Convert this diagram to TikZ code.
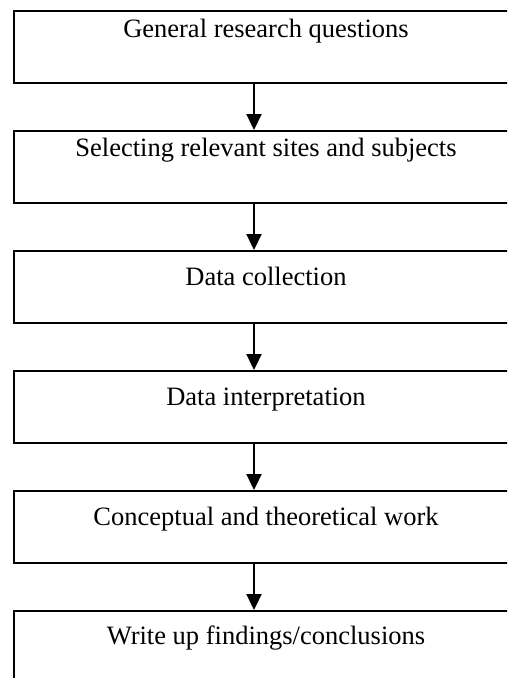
\documentclass[tikz,border=0pt]{standalone}
\usepackage{fontspec}
\setmainfont{Liberation Serif}
\usetikzlibrary{arrows.meta}
\begin{document}
\begin{tikzpicture}[x=1pt,y=-1pt,
  stagebox/.style={draw=black, line width=1.9pt, rectangle, minimum width=504.5pt, minimum height=72pt, inner sep=0pt},
  stagetext/.style={anchor=base, inner sep=0pt, font=\fontsize{26.5}{30}\selectfont},
  flowarrow/.style={line width=1.9pt, -{Triangle[width=15pt,length=16pt]}}]
\useasboundingbox (0,0) rectangle (507,678);
\clip (0,0) rectangle (507,678);
\fill[white] (0,0) rectangle (507,678);
\node[stagebox] (b1) at (266,47) {};
\node[stagebox] (b2) at (266,167) {};
\node[stagebox] (b3) at (266,287) {};
\node[stagebox] (b4) at (266,407) {};
\node[stagebox] (b5) at (266,527) {};
\node[stagebox] (b6) at (266,647) {};
\node[stagetext] (t1) at ([yshift=-27pt]b1.north) {General research questions};
\node[stagetext] (t2) at ([yshift=-26.3pt]b2.north) {Selecting relevant sites and subjects};
\node[stagetext] (t3) at ([yshift=-35.5pt]b3.north) {Data collection};
\node[stagetext] (t4) at ([yshift=-35.5pt]b4.north) {Data interpretation};
\node[stagetext] (t5) at ([yshift=-35.5pt]b5.north) {Conceptual and theoretical work};
\node[stagetext] (t6) at ([yshift=-34pt]b6.north) {Write up findings/conclusions};
\draw[flowarrow] ([xshift=-12pt]b1.south) -- ([xshift=-12pt]b2.north);
\draw[flowarrow] ([xshift=-12pt]b2.south) -- ([xshift=-12pt]b3.north);
\draw[flowarrow] ([xshift=-12pt]b3.south) -- ([xshift=-12pt]b4.north);
\draw[flowarrow] ([xshift=-12pt]b4.south) -- ([xshift=-12pt]b5.north);
\draw[flowarrow] ([xshift=-12pt]b5.south) -- ([xshift=-12pt]b6.north);
\end{tikzpicture}
\end{document}
